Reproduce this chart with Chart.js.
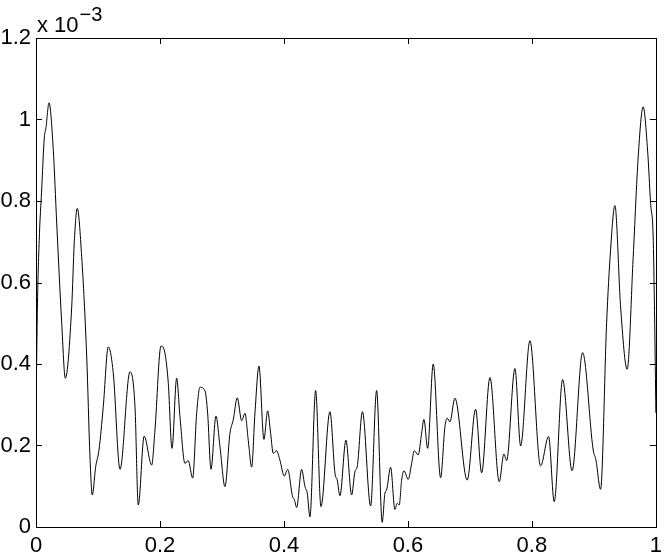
<!DOCTYPE html>
<html>
<head>
<meta charset="utf-8">
<title>Curve</title>
<script src="https://cdn.jsdelivr.net/npm/chart.js@4/dist/chart.umd.min.js"></script>
<style>
  html, body { margin: 0; padding: 0; background: #fff; }
  #wrap { width: 668px; height: 557px; }
</style>
</head>
<body>
<div id="wrap"><canvas id="plot" width="668" height="557"></canvas></div>
<script>
// Sampled curve (x in [0,1], y in units of 1e-3)
const xValues = [
  0, 0.0024, 0.0056, 0.0089, 0.0134, 0.0161, 0.0210, 0.0279, 0.0334, 0.0415,
  0.0473, 0.0576, 0.0618, 0.0666, 0.0737, 0.0818, 0.0871, 0.0908, 0.0963, 0.1016,
  0.1085, 0.1166, 0.1247, 0.1355, 0.1516, 0.1597, 0.1650, 0.1745, 0.1866, 0.1919,
  0.2016, 0.2081, 0.2134, 0.2194, 0.2269, 0.2323, 0.2403, 0.2456, 0.2527, 0.2592,
  0.2645, 0.2726, 0.2769, 0.2823, 0.2903, 0.2968, 0.3048, 0.3129, 0.3182, 0.3247,
  0.3318, 0.3371, 0.3424, 0.3479, 0.3532, 0.3597, 0.3677, 0.3737, 0.3785, 0.3827,
  0.3882, 0.3935, 0.4005, 0.4060, 0.4140, 0.4166, 0.4205, 0.4285, 0.4339, 0.4376,
  0.4419, 0.4511, 0.4597, 0.4742, 0.4823, 0.4860, 0.4903, 0.5000, 0.5092, 0.5145,
  0.5182, 0.5266, 0.5398, 0.5495, 0.5585, 0.5629, 0.5656, 0.5721, 0.5790, 0.5827,
  0.5860, 0.5898, 0.5935, 0.6005, 0.6060, 0.6102, 0.6166, 0.6221, 0.6258, 0.6318,
  0.6408, 0.6527, 0.6597, 0.6634, 0.6677, 0.6758, 0.6956, 0.7092, 0.7189, 0.7323,
  0.7473, 0.7548, 0.7592, 0.7726, 0.7818, 0.7968, 0.8140, 0.8269, 0.8360, 0.8495,
  0.8648, 0.8818, 0.8989, 0.9032, 0.9108, 0.9205, 0.9269, 0.9339, 0.9431, 0.9537,
  0.9634, 0.9715, 0.9795, 0.9866, 0.9915, 0.9956, 0.9981, 1
];
const yValues = [
  0.28, 0.55, 0.72, 0.82, 0.955, 0.98, 1.041, 0.925, 0.746, 0.50,
  0.365, 0.54, 0.70, 0.782, 0.663, 0.418, 0.172, 0.0785, 0.148, 0.189,
  0.295, 0.442, 0.377, 0.1415, 0.381, 0.295, 0.054, 0.223, 0.152, 0.238,
  0.444, 0.426, 0.353, 0.193, 0.365, 0.27, 0.156, 0.163, 0.12, 0.279,
  0.343, 0.334, 0.279, 0.1415, 0.272, 0.197, 0.099, 0.23, 0.263, 0.317,
  0.261, 0.279, 0.213, 0.147, 0.279, 0.395, 0.215, 0.285, 0.23, 0.181,
  0.187, 0.164, 0.125, 0.1415, 0.074, 0.068, 0.048, 0.1415, 0.099, 0.083,
  0.025, 0.335, 0.05, 0.283, 0.132, 0.115, 0.077, 0.213, 0.0785, 0.136,
  0.148, 0.283, 0.0515, 0.335, 0.0115, 0.083, 0.091, 0.1465, 0.043, 0.058,
  0.054, 0.115, 0.138, 0.117, 0.156, 0.187, 0.177, 0.23, 0.264, 0.193,
  0.40, 0.121, 0.246, 0.267, 0.258, 0.316, 0.115, 0.289, 0.133, 0.367,
  0.111, 0.179, 0.163, 0.389, 0.199, 0.457, 0.15, 0.222, 0.062, 0.362,
  0.138, 0.428, 0.189, 0.165, 0.0925, 0.50, 0.68, 0.789, 0.54, 0.387,
  0.663, 0.909, 1.031, 0.925, 0.794, 0.712, 0.5, 0.28
];
const xTicks = [0, 0.2, 0.4, 0.6, 0.8, 1];
const yTicks = [0, 0.2, 0.4, 0.6, 0.8, 1, 1.2];
const yExponent = "-3";

const FONT = "'Liberation Sans', Arial, Helvetica, sans-serif";

function fontString(size) {
  return Chart.helpers.toFont({ size: size, family: FONT, style: "normal", weight: "normal" }).string;
}

// Matlab-like box with inward ticks on all four sides, plus the exponent label
const boxPlugin = {
  id: "boxPlugin",
  afterDraw(chart) {
    const ctx = chart.ctx;
    const area = chart.chartArea;
    const xs = chart.scales.x;
    const ys = chart.scales.y;
    const len = 6;
    ctx.save();
    ctx.strokeStyle = "#000";
    ctx.lineWidth = 1;
    ctx.beginPath();
    xTicks.forEach((t) => {
      const px = Math.round(xs.getPixelForValue(t)) + 0.5;
      ctx.moveTo(px, area.bottom);
      ctx.lineTo(px, area.bottom - len);
      ctx.moveTo(px, area.top);
      ctx.lineTo(px, area.top + len);
    });
    yTicks.forEach((t) => {
      const py = Math.round(ys.getPixelForValue(t)) + 0.5;
      ctx.moveTo(area.left, py);
      ctx.lineTo(area.left + len, py);
      ctx.moveTo(area.right, py);
      ctx.lineTo(area.right - len, py);
    });
    ctx.stroke();
    ctx.strokeRect(Math.round(area.left) + 0.5, Math.round(area.top) + 0.5,
      Math.round(area.right - area.left), Math.round(area.bottom - area.top));

    // "x 10^-3" above the y axis
    ctx.fillStyle = "#000";
    ctx.textBaseline = "alphabetic";
    ctx.textAlign = "left";
    ctx.font = fontString(22);
    const base = "x 10";
    ctx.fillText(base, area.left + 1, area.top - 6);
    const w = ctx.measureText(base).width;
    ctx.font = fontString(20);
    ctx.fillText(yExponent.replace("-", "\u2212"), area.left + 2 + w, area.top - 17);
    ctx.restore();
  }
};

const points = xValues.map((x, i) => ({ x: x, y: yValues[i] }));

new Chart(document.getElementById("plot").getContext("2d"), {
  type: "line",
  data: {
    datasets: [{
      data: points,
      borderColor: "#000",
      borderWidth: 1,
      pointRadius: 0,
      cubicInterpolationMode: "monotone",
      fill: false
    }]
  },
  options: {
    responsive: false,
    animation: false,
    layout: { padding: { top: 38, right: 12, left: 0, bottom: 0 } },
    plugins: { legend: { display: false }, tooltip: { enabled: false } },
    scales: {
      x: {
        type: "linear",
        min: 0,
        max: 1,
        grid: { display: false, drawTicks: false },
        border: { display: false },
        afterBuildTicks: (scale) => { scale.ticks = xTicks.map((v) => ({ value: v })); },
        afterFit: (scale) => { scale.height = 30; },
        ticks: {
          color: "#000",
          padding: 6,
          maxRotation: 0,
          font: { family: FONT, size: 22 },
          callback: (v) => String(v)
        }
      },
      y: {
        min: 0,
        max: 1.2,
        grid: { display: false, drawTicks: false },
        border: { display: false },
        afterBuildTicks: (scale) => { scale.ticks = yTicks.map((v) => ({ value: v })); },
        afterFit: (scale) => { scale.width = 36; },
        ticks: {
          color: "#000",
          padding: 5,
          font: { family: FONT, size: 22 },
          callback: (v) => String(Math.round(v * 10) / 10)
        }
      }
    }
  },
  plugins: [boxPlugin]
});
</script>
</body>
</html>
